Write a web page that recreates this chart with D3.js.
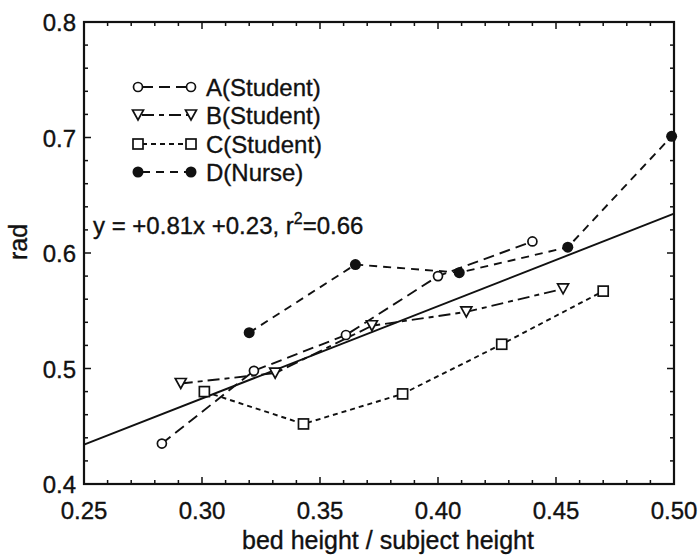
<!DOCTYPE html>
<html><head><meta charset="utf-8">
<script src="https://cdn.jsdelivr.net/npm/d3@7"></script>
<style>body{margin:0;background:#fff}svg{display:block}text{font-family:"Liberation Sans",Arial,sans-serif;fill:#111;stroke:#111;stroke-width:0.35}</style>
</head><body><svg id="c" width="699" height="557"></svg>
<script>
const xTicks = [0.25, 0.30, 0.35, 0.40, 0.45, 0.50];
const yTicks = [0.4, 0.5, 0.6, 0.7, 0.8];
const seriesNames = ["A(Student)", "B(Student)", "C(Student)", "D(Nurse)"];
const aX = [0.283, 0.322, 0.361, 0.400, 0.440];
const aY = [0.435, 0.498, 0.529, 0.580, 0.610];
const bX = [0.291, 0.331, 0.372, 0.412, 0.453];
const bY = [0.487, 0.496, 0.537, 0.549, 0.569];
const cX = [0.301, 0.343, 0.385, 0.427, 0.470];
const cY = [0.480, 0.452, 0.478, 0.521, 0.567];
const dX = [0.320, 0.365, 0.409, 0.455, 0.499];
const dY = [0.531, 0.590, 0.583, 0.605, 0.701];
const fitX = [0.25, 0.50];
const fitY = [0.434, 0.634];

const svg = d3.select("#c");
const L = 84, R = 674, T = 22, B = 484;
const x = d3.scaleLinear().domain([0.25, 0.50]).range([L, R]);
const y = d3.scaleLinear().domain([0.4, 0.8]).range([B, T]);

// ticks (inward, all sides)
const minorX = d3.range(0.25, 0.5001, 0.01);
const minorY = d3.range(0.4, 0.8001, 0.02);
const g = svg.append("g").attr("stroke", "#111").attr("stroke-width", 1.5);
minorX.forEach(v => {
  const len = xTicks.some(t => Math.abs(t - v) < 1e-6) ? 7 : 4;
  g.append("line").attr("x1", x(v)).attr("x2", x(v)).attr("y1", B).attr("y2", B - len);
  g.append("line").attr("x1", x(v)).attr("x2", x(v)).attr("y1", T).attr("y2", T + len);
});
minorY.forEach(v => {
  const len = yTicks.some(t => Math.abs(t - v) < 1e-6) ? 7 : 4;
  g.append("line").attr("y1", y(v)).attr("y2", y(v)).attr("x1", L).attr("x2", L + len);
  g.append("line").attr("y1", y(v)).attr("y2", y(v)).attr("x1", R).attr("x2", R - len);
});
svg.append("rect").attr("x", L).attr("y", T).attr("width", R - L).attr("height", B - T)
  .attr("fill", "none").attr("stroke", "#111").attr("stroke-width", 2.2);

// tick labels
svg.append("g").selectAll("text").data(xTicks).join("text")
  .attr("x", d => x(d)).attr("y", 519).attr("text-anchor", "middle")
  .attr("font-size", 24).text(d => d.toFixed(2));
svg.append("g").selectAll("text").data(yTicks).join("text")
  .attr("x", 76).attr("y", d => y(d) + 9).attr("text-anchor", "end")
  .attr("font-size", 24).text(d => d.toFixed(1));

svg.append("text").attr("x", 388).attr("y", 549).attr("text-anchor", "middle")
  .attr("font-size", 25).text("bed height / subject height");
svg.append("text").attr("transform", "translate(27,242) rotate(-90)").attr("text-anchor", "middle")
  .attr("font-size", 25).text("rad");

// fit line
svg.append("line").attr("x1", x(fitX[0])).attr("y1", y(fitY[0])).attr("x2", x(fitX[1])).attr("y2", y(fitY[1]))
  .attr("stroke", "#111").attr("stroke-width", 1.9);

const styles = [
  {xs: aX, ys: aY, dash: "11,6", m: "circle"},
  {xs: bX, ys: bY, dash: "12,5,5,5", m: "tri"},
  {xs: cX, ys: cY, dash: "5,4", m: "square"},
  {xs: dX, ys: dY, dash: "8,6", m: "dot"}
];
function marker(sel, type, cx, cy) {
  if (type === "circle") sel.append("circle").attr("cx", cx).attr("cy", cy).attr("r", 4.5).attr("fill", "#fff").attr("stroke", "#111").attr("stroke-width", 1.7);
  else if (type === "dot") sel.append("circle").attr("cx", cx).attr("cy", cy).attr("r", 5.5).attr("fill", "#111");
  else if (type === "square") sel.append("rect").attr("x", cx - 5).attr("y", cy - 5).attr("width", 10).attr("height", 10).attr("fill", "#fff").attr("stroke", "#111").attr("stroke-width", 1.7);
  else sel.append("path").attr("d", `M${cx-5.5},${cy-5} L${cx+5.5},${cy-5} L${cx},${cy+5} Z`).attr("fill", "#fff").attr("stroke", "#111").attr("stroke-width", 1.7);
}
const line = d3.line().x(d => x(d[0])).y(d => y(d[1]));
styles.forEach(s => {
  const pts = s.xs.map((v, i) => [v, s.ys[i]]);
  svg.append("path").attr("d", line(pts)).attr("fill", "none").attr("stroke", "#111")
    .attr("stroke-width", 1.9).attr("stroke-dasharray", s.dash);
});
styles.forEach(s => {
  const mg = svg.append("g");
  s.xs.forEach((v, i) => marker(mg, s.m, x(v), y(s.ys[i])));
});

// legend
const legY = [87, 115, 144, 172];
styles.forEach((s, i) => {
  const lg = svg.append("g");
  lg.append("line").attr("x1", 138).attr("x2", 191).attr("y1", legY[i]).attr("y2", legY[i])
    .attr("stroke", "#111").attr("stroke-width", 1.9).attr("stroke-dasharray", s.dash)
    .attr("stroke-dashoffset", -4);
  marker(lg, s.m, 138, legY[i]);
  marker(lg, s.m, 191, legY[i]);
  lg.append("text").attr("x", 206).attr("y", legY[i] + 9).attr("font-size", 24).text(seriesNames[i]);
});

// equation
const eq = svg.append("text").attr("x", 93).attr("y", 234).attr("font-size", 24);
eq.append("tspan").text("y = +0.81x +0.23, r");
eq.append("tspan").attr("dy", -10).attr("font-size", 16).text("2");
eq.append("tspan").attr("dy", 10).text("=0.66");
</script></body></html>
